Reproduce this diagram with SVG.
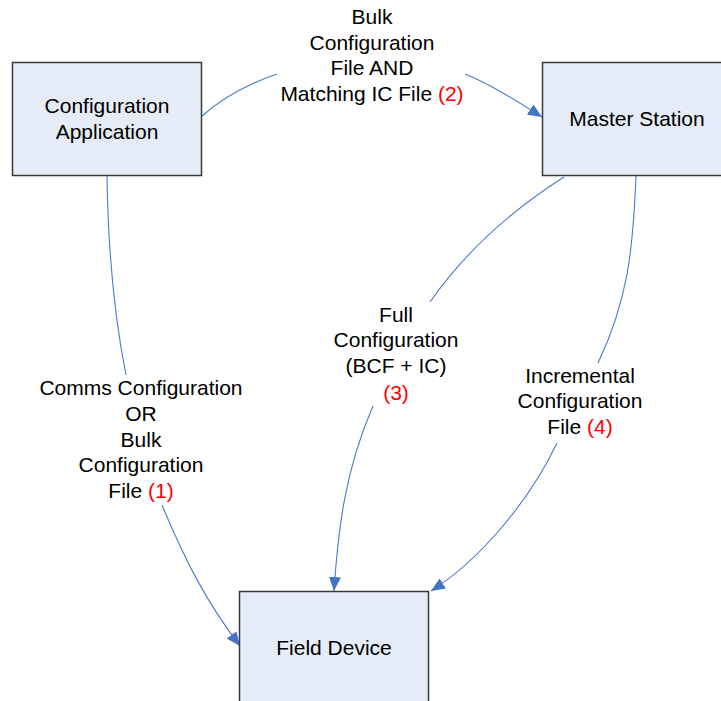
<svg xmlns="http://www.w3.org/2000/svg" width="721" height="701" viewBox="0 0 721 701">
<style>
.box{fill:#E6ECF7;stroke:#3a3a3a;stroke-width:1.5}
.t{font-family:"Liberation Sans",Arial,sans-serif;font-size:21px;fill:#000;text-anchor:middle}
.r{fill:#FF0000}
.c{fill:none;stroke:#4A7BC8;stroke-width:1.1}
</style>
<defs>
<marker id="ah" viewBox="0 0 14 12" refX="14" refY="6" markerWidth="14" markerHeight="12" markerUnits="userSpaceOnUse" orient="auto">
<path d="M0,0 L14,6 L0,12 Z" fill="#4472C4"/>
</marker>
</defs>
<rect width="721" height="701" fill="#fff"/>
<g id="connectors">
<path class="c" d="M202,116 C220,100 245,85 277,74"/>
<path class="c" d="M465,74 C490,84 515,100 542,117" marker-end="url(#ah)"/>
<path class="c" d="M107,176 C108,245 113,310 126,375"/>
<path class="c" d="M162,505 C185,560 205,600 240,646" marker-end="url(#ah)"/>
<path class="c" d="M564,177 C520,205 470,245 430,302"/>
<path class="c" d="M373,406 C345,470 338,530 334,591" marker-end="url(#ah)"/>
<path class="c" d="M636,176 C633,250 628,300 598,363"/>
<path class="c" d="M557,443 C530,500 480,560 431,591" marker-end="url(#ah)"/>
</g>
<g id="config-app">
<rect class="box" x="12.5" y="62.5" width="189" height="113"/>
<text class="t" x="107" y="113">Configuration</text>
<text class="t" x="107" y="139">Application</text>
</g>
<g id="master-station">
<rect class="box" x="542.5" y="62.5" width="182" height="113"/>
<text class="t" x="637" y="126">Master Station</text>
</g>
<g id="field-device">
<rect class="box" x="239.5" y="591.5" width="189" height="115"/>
<text class="t" x="334" y="655">Field Device</text>
</g>
<g id="labels">
<text class="t" x="372" y="24">Bulk</text>
<text class="t" x="372" y="50">Configuration</text>
<text class="t" x="372" y="75">File AND</text>
<text class="t" x="372" y="101">Matching IC File <tspan class="r">(2)</tspan></text>
<text class="t" x="141" y="395">Comms Configuration</text>
<text class="t" x="141" y="421">OR</text>
<text class="t" x="141" y="447">Bulk</text>
<text class="t" x="141" y="472">Configuration</text>
<text class="t" x="141" y="498">File <tspan class="r">(1)</tspan></text>
<text class="t" x="396" y="322">Full</text>
<text class="t" x="396" y="347">Configuration</text>
<text class="t" x="396" y="373">(BCF + IC)</text>
<text class="t r" x="396" y="400">(3)</text>
<text class="t" x="580" y="383">Incremental</text>
<text class="t" x="580" y="408">Configuration</text>
<text class="t" x="580" y="434">File <tspan class="r">(4)</tspan></text>
</g>
</svg>
